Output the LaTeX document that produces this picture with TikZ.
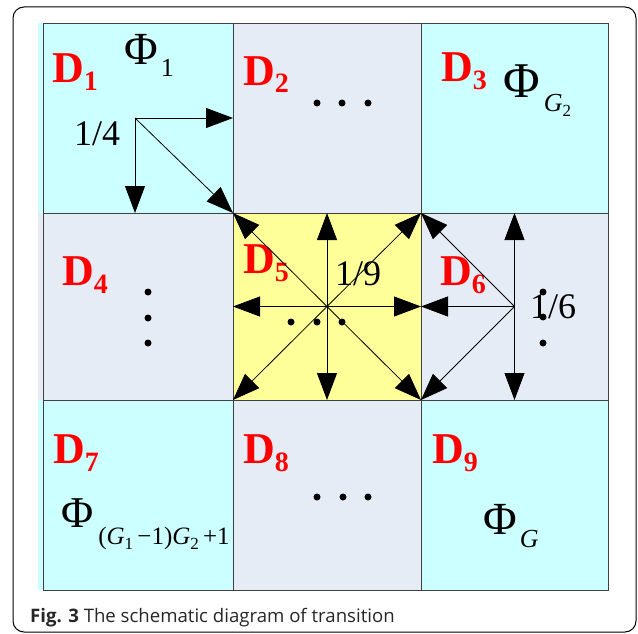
\documentclass[tikz,border=0pt]{standalone}
\usepackage{fontspec}
\setmainfont{Liberation Serif}
\newfontfamily\capfont{Open Sans}
\usetikzlibrary{arrows.meta}

\definecolor{cellcyan}{HTML}{CCFFFF}
\definecolor{celllav}{HTML}{E6ECF6}
\definecolor{cellyel}{HTML}{FFFF99}

% red region label with lowered digit
\newcommand{\dname}[1]{D\raisebox{-8pt}{\fontsize{28}{28}\selectfont #1}}
\newcommand{\subsz}[1]{{\fontsize{26}{26}\selectfont #1}}
\newcommand{\subsub}[1]{\raisebox{-5pt}{\fontsize{17}{17}\selectfont #1}}

\begin{document}
\begin{tikzpicture}[
  x=1pt, y=-1pt,
  cell/.style={draw=black!75,line width=0.8pt,inner sep=0pt,outer sep=0pt},
  dlab/.style={text=red,font=\bfseries\fontsize{44}{44}\selectfont,inner sep=0pt,anchor=base west},
  philab/.style={inner sep=0pt,anchor=base west},
  prob/.style={font=\fontsize{36}{36}\selectfont,inner sep=0pt,anchor=base west},
  arr/.style={-{Triangle[length=27pt,width=20pt]},line width=0.8pt,black},
  dot/.style={circle,fill=black,inner sep=0pt,minimum size=7pt}
]
\useasboundingbox (0,0) rectangle (638,634);
\draw[line width=1pt,rounded corners=11pt] (13,7) rectangle (636,632);

% left strip of the first column
\fill[cellcyan] (38,23) rectangle (43,213);
\fill[celllav] (38,213) rectangle (43,400);
\fill[cellcyan] (38,400) rectangle (43,590);

% the nine regions
\foreach \n/\cx/\cy/\w/\h/\c in {
  1/138/118/190/190/cellcyan, 2/327/118/188/190/celllav, 3/514.5/118/187/190/cellcyan,
  4/138/306.5/190/187/celllav, 5/327/306.5/188/187/cellyel, 6/514.5/306.5/187/187/celllav,
  7/138/495/190/190/cellcyan, 8/327/495/188/190/celllav, 9/514.5/495/187/190/cellcyan}
  \node[cell,fill=\c,minimum width=\w,minimum height=\h] (d\n) at (\cx,\cy) {};

% labels
\node[dlab] (l1) at (52,83) {\dname{1}};
\node[dlab] (l2) at (243,85) {\dname{2}};
\node[dlab] (l3) at (441,82) {\dname{3}};
\node[dlab] (l4) at (62,285) {\dname{4}};
\node[dlab] (l5) at (243,273) {\dname{5}};
\node[dlab] (l6) at (440,285) {\dname{6}};
\node[dlab] (l7) at (53,463) {\dname{7}};
\node[dlab] (l8) at (243,463) {\dname{8}};
\node[dlab] (l9) at (432,463) {\dname{9}};

\node[philab] (p1) at (124,65) {{\fontsize{46}{46}\selectfont Φ}\hspace{3pt}\raisebox{-12pt}{\subsz{1}}};
\node[philab] (p3) at (503,98) {{\fontsize{50}{50}\selectfont Φ}\hspace{4pt}\raisebox{-14pt}{\subsz{\textit{G}}\subsub{2}}};
\node[philab] (p7) at (61,527) {{\fontsize{44}{44}\selectfont Φ}\hspace{5pt}\raisebox{-17pt}{{\fontsize{25}{25}\selectfont (\textit{G}\subsub{1}\,−1)\textit{G}\subsub{2}\,+1}}};
\node[philab] (p9) at (483,534) {{\fontsize{46}{46}\selectfont Φ}\hspace{3pt}\raisebox{-13pt}{\subsz{\textit{G}}}};

\node[prob] (q1) at (74,146) {1/4};
\node[prob] (q5) at (335,285) {1/9};
\node[prob] (q6) at (530,318) {1/6};

% dots
\foreach \x [count=\i] in {317,342,368} \node[dot] (a\i) at (\x,103) {};
\foreach \x [count=\i] in {317,343,368} \node[dot] (b\i) at (\x,497) {};
\foreach \y [count=\i] in {292,318,343} \node[dot] (c\i) at (148,\y) {};
\foreach \x [count=\i] in {291,317,342} \node[dot] (e\i) at (\x,322) {};
\foreach \y [count=\i] in {292,317,343} \node[dot] (f\i) at (543,\y) {};

% transitions from D1
\coordinate (o1) at (135,118);
\draw[arr] (o1) -- (o1 -| d1.east);
\draw[arr] (o1) -- (o1 |- d1.south);
\draw[arr] (o1) -- (d1.south east);

% transitions from D5
\foreach \a in {north,south,east,west,north east,north west,south east,south west}
  \draw[arr] (d5.center) -- (d5.\a);

% transitions from D6
\foreach \a in {north,south,west,north west,south west}
  \draw[arr] (d6.center) -- (d6.\a);

\node[anchor=base west,inner sep=0pt,text=black!85,font=\capfont\fontsize{18.6}{18.6}\selectfont] (cap) at (30,622)
  {\textbf{Fig. 3} The schematic diagram of transition};
\end{tikzpicture}
\end{document}
